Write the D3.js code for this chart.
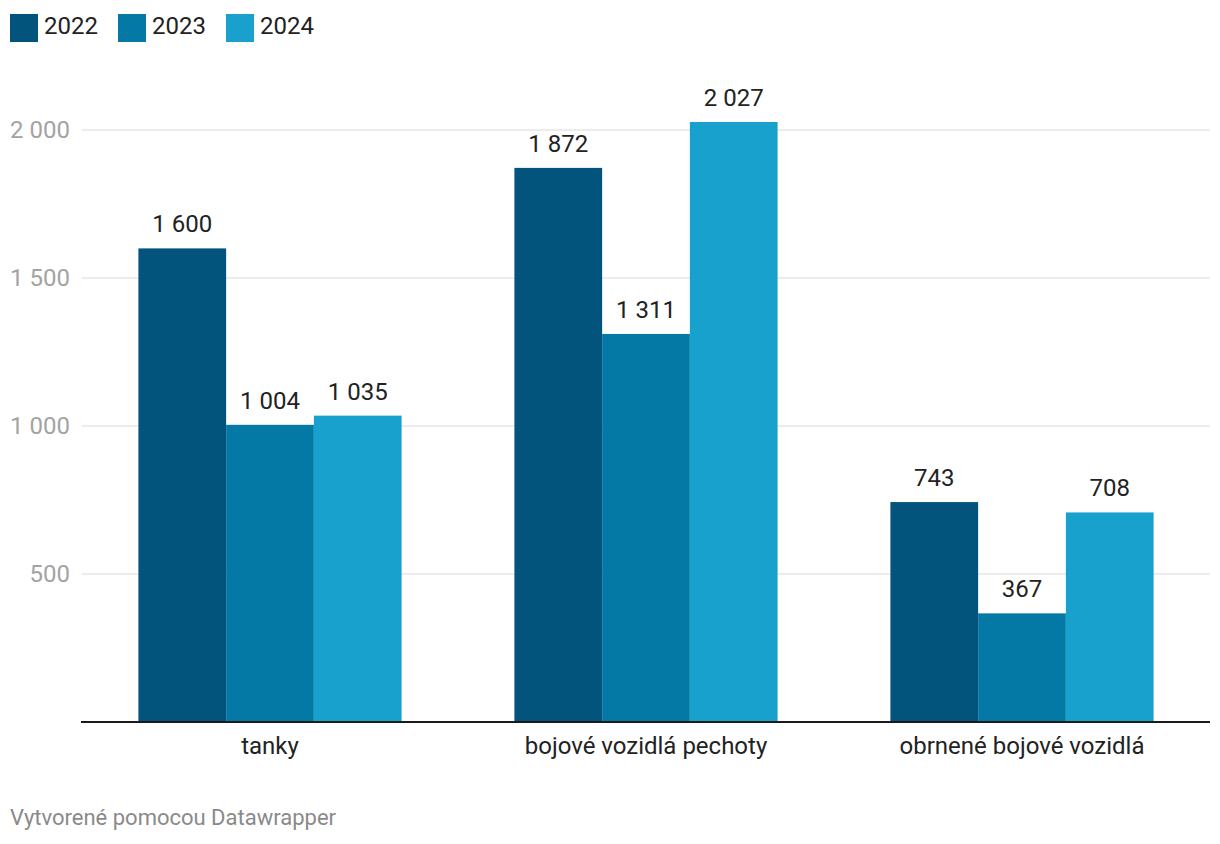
<!DOCTYPE html>
<html><head><meta charset="utf-8">
<script src="https://cdn.jsdelivr.net/npm/d3@7"></script>
<style>body{margin:0;background:#fff;font-family:Roboto,sans-serif}</style>
</head><body><svg id="c" width="1220" height="844"></svg>
<script>
const categories = ["tanky", "bojové vozidlá pechoty", "obrnené bojové vozidlá"];
const years = ["2022", "2023", "2024"];
const values2022 = [1600, 1872, 743];
const values2023 = [1004, 1311, 367];
const values2024 = [1035, 2027, 708];
const colors = ["#02547c", "#0479a6", "#18a1cd"];
const yTicks = [500, 1000, 1500, 2000];
const series = [values2022, values2023, values2024];

const svg = d3.select("#c");
const fmt = v => d3.format(",")(v).replace(/,/g, " ");

const x0 = d3.scaleBand().domain(categories).range([82, 1210]).paddingInner(0.3).paddingOuter(0.15);
const x1 = d3.scaleBand().domain(years).range([0, x0.bandwidth()]);
const y = d3.scaleLinear().domain([0, 2000]).range([722, 130]);

// gridlines
svg.append("g").selectAll("line").data(yTicks).join("line")
  .attr("x1", 82).attr("x2", 1210).attr("y1", d => y(d)).attr("y2", d => y(d))
  .attr("stroke", "#e6e6e6").attr("stroke-width", 1.5);
svg.append("g").selectAll("text").data(yTicks).join("text")
  .attr("x", 70).attr("y", d => y(d)).attr("dy", "0.35em").attr("text-anchor", "end")
  .attr("fill", "#a3a3a3").attr("font-size", 24).text(d => fmt(d));

// bars
const g = svg.append("g");
categories.forEach((c, ci) => {
  years.forEach((yr, si) => {
    const v = series[si][ci];
    g.append("rect").attr("x", x0(c) + x1(yr)).attr("width", x1.bandwidth())
      .attr("y", y(v)).attr("height", y(0) - y(v)).attr("fill", colors[si]);
    g.append("text").attr("x", x0(c) + x1(yr) + x1.bandwidth() / 2).attr("y", y(v) - 16)
      .attr("text-anchor", "middle").attr("fill", "#222").attr("font-size", 24).text(fmt(v));
  });
});

// baseline
svg.append("line").attr("x1", 81).attr("x2", 1210).attr("y1", y(0)).attr("y2", y(0))
  .attr("stroke", "#1a1a1a").attr("stroke-width", 2);

// category labels
svg.append("g").selectAll("text").data(categories).join("text")
  .attr("x", d => x0(d) + x0.bandwidth() / 2).attr("y", 754).attr("text-anchor", "middle")
  .attr("fill", "#222").attr("font-size", 24).text(d => d);

// legend
const lg = svg.append("g");
years.forEach((yr, i) => {
  const lx = 10 + i * 108;
  lg.append("rect").attr("x", lx).attr("y", 14).attr("width", 28).attr("height", 28).attr("fill", colors[i]);
  lg.append("text").attr("x", lx + 34).attr("y", 34).attr("fill", "#222").attr("font-size", 24).text(yr);
});

// footer
svg.append("text").attr("x", 10).attr("y", 825).attr("fill", "#8a8a8a").attr("font-size", 22).text("Vytvorené pomocou Datawrapper");
</script></body></html>
